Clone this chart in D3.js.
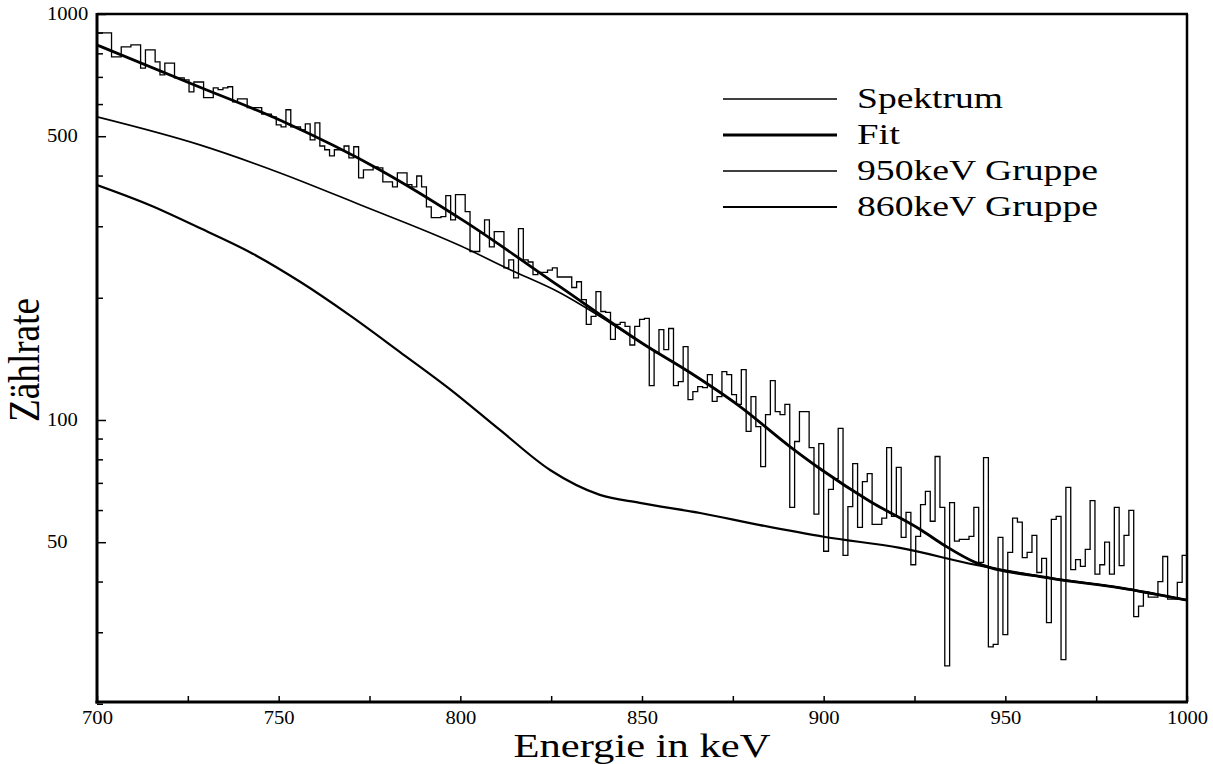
<!DOCTYPE html>
<html><head><meta charset="utf-8">
<script src="https://cdn.jsdelivr.net/npm/d3@7"></script>
<style>
body{margin:0;background:#fff}
svg{display:block}
text{font-family:"Liberation Serif","Times New Roman",serif;fill:#000}
</style>
</head><body>
<svg id="c" width="1213" height="764"></svg>
<script>
// ---------------- data ----------------
const spectrumStartKeV = 700;
const spectrumBinKeV = 4 / 3;
const spectrum = [
  898, 898, 898, 784, 784, 830, 830, 839, 839, 736,
  816, 816, 762, 708, 757, 757, 696, 696, 688, 643,
  680, 680, 622, 622, 658, 651, 658, 662, 608, 618,
  618, 588, 588, 588, 567, 567, 558, 533, 527, 581,
  527, 527, 518, 536, 490, 539, 473, 463, 447, 463,
  463, 473, 442, 471, 395, 413, 413, 420, 418, 386,
  386, 375, 406, 406, 380, 375, 399, 375, 335, 315,
  315, 317, 357, 311, 359, 359, 326, 260, 260, 289,
  311, 267, 291, 291, 237, 248, 224, 296, 248, 245,
  228, 231, 231, 234, 237, 225, 225, 225, 212, 219,
  198, 172, 180, 207, 185, 184, 158, 172, 174, 170,
  153, 170, 177, 178, 121.5, 146.5, 167, 149, 168, 121.5,
  124.3, 151.6, 112.3, 117.5, 120.8, 120.1, 129.4, 111.1, 114.2, 131.6,
  129.4, 115.5, 109.2, 133.1, 93.7, 114.2, 96.3, 76.8, 103.1, 125,
  104.9, 103.1, 109.2, 60.9, 88.5, 104.9, 104.9, 85.5, 58.6, 87.5,
  47.5, 67.5, 71.7, 95.3, 46.4, 61.2, 78.1, 54.4, 70.5, 73.8,
  55.3, 55.3, 57.3, 85.5, 57.9, 76.4, 51.4, 59.2, 44.0, 51.7,
  61.9, 66.7, 56.3, 81.3, 60.9, 24.8, 62.6, 50.3, 50.8, 50.8,
  51.7, 60.9, 44.6, 80.8, 27.6, 28.0, 51.4, 29.6, 47.2, 57.3,
  56.0, 45.8, 47.2, 52.0, 42.1, 45.6, 31.7, 56.9, 57.9, 25.7,
  68.2, 42.8, 45.3, 43.6, 48.0, 63.3, 41.7, 44.0, 50.0, 41.7,
  60.9, 43.8, 52.0, 59.9, 32.8, 34.8, 37.6, 36.6, 36.6, 40.0,
  46.1, 36.2, 36.2, 39.8, 46.4
];

const fitEnergy = [700, 727.5, 750.9, 777.9, 801.3, 827.4, 850.8, 863.2, 877.0, 890.7, 899.5, 912.8, 926.5, 933.4, 941.7, 962.3, 981.6, 1000];
const fitValue  = [839, 665, 545, 413, 308, 213, 153, 130.9, 107.9, 86.0, 75.3, 63.0, 53.8, 49.0, 44.6, 40.8, 38.6, 36.0];

const g950Energy = [700, 728.3, 750.4, 772.4, 800, 813.7, 827.4, 841.2, 850.8, 863.2, 877.0, 890.7, 899.5, 912.8, 926.5, 933.4, 941.7, 962.3, 981.6, 1000];
const g950Value  = [558, 476, 406, 339, 268.6, 234.5, 205.8, 173.6, 153, 130.9, 107.9, 86.0, 75.3, 63.0, 53.8, 49.0, 44.6, 40.8, 38.6, 36.0];

const g860Energy = [700, 714.6, 728.3, 742.1, 755.9, 769.6, 783.4, 797.2, 810.9, 824.7, 838.4, 849.4, 866.0, 882.5, 900.4, 921.0, 941.7, 962.3, 981.6, 1000];
const g860Value  = [379, 338, 297, 259, 219, 181, 147, 119, 94.5, 75.3, 65.4, 62.5, 59.0, 55.1, 51.5, 48.4, 44.0, 40.8, 38.6, 36.0];

const xTickLabels = [700, 750, 800, 850, 900, 950, 1000];
const xMinorTicks = [700, 725, 750, 775, 800, 825, 850, 875, 900, 925, 950, 975, 1000];
const yTickLabels = [1000, 500, 100, 50];
const yMinorTicks = [20, 30, 40, 60, 70, 80, 90, 200, 300, 400, 600, 700, 800, 900];
const yMajorTicks = [50, 100, 500, 1000];
const legendNames = ["Spektrum", "Fit", "950keV Gruppe", "860keV Gruppe"];

// ---------------- layout ----------------
const L = 97, R = 1187, T = 14, B = 702;
const FONT = '"Liberation Serif","Times New Roman",serif';
const svg = d3.select("#c");
const x = d3.scaleLinear().domain([700, 1000]).range([L, R]);
const y = d3.scaleLog().domain([20.2, 1000]).range([B, T]);

svg.append("defs").append("clipPath").attr("id", "clipP")
  .append("rect").attr("x", L).attr("y", T).attr("width", R - L).attr("height", B - T);
const plot = svg.append("g").attr("clip-path", "url(#clipP)");

// spectrum as a step histogram
const specPts = spectrum.map((v, i) => [spectrumStartKeV + i * spectrumBinKeV, v]);
specPts.push([spectrumStartKeV + spectrum.length * spectrumBinKeV, spectrum[spectrum.length - 1]]);
const stepLine = d3.line().x(d => x(d[0])).y(d => y(d[1])).curve(d3.curveStepAfter);
plot.append("path").attr("d", stepLine(specPts))
  .attr("fill", "none").attr("stroke", "#000").attr("stroke-width", 1.3);

const smooth = d3.line().x(d => x(d[0])).y(d => y(d[1])).curve(d3.curveMonotoneX);
const zip = (a, b) => a.map((e, i) => [e, b[i]]);
plot.append("path").attr("d", smooth(zip(g950Energy, g950Value)))
  .attr("fill", "none").attr("stroke", "#000").attr("stroke-width", 1.6);
plot.append("path").attr("d", smooth(zip(g860Energy, g860Value)))
  .attr("fill", "none").attr("stroke", "#000").attr("stroke-width", 2.2);
plot.append("path").attr("d", smooth(zip(fitEnergy, fitValue)))
  .attr("fill", "none").attr("stroke", "#000").attr("stroke-width", 2.8);

// axes: inward ticks
const xTicksG = svg.append("g").attr("transform", `translate(0,${B})`)
  .call(d3.axisBottom(x).tickValues(xMinorTicks).tickSizeInner(-6).tickSizeOuter(0).tickFormat(""));
xTicksG.select(".domain").remove();
xTicksG.selectAll("line").attr("stroke-width", 1.5);

const xLab = svg.append("g").attr("transform", `translate(0,${B})`)
  .call(d3.axisBottom(x).tickValues(xTickLabels).tickSize(0).tickPadding(9).tickFormat(d3.format("d")));
xLab.select(".domain").remove();
xLab.selectAll("text").attr("font-size", 18).style("font-family", FONT)
  .attr("textLength", d => String(d).length * 10.3).attr("lengthAdjust", "spacingAndGlyphs");

const yMin = svg.append("g").attr("transform", `translate(${L},0)`)
  .call(d3.axisLeft(y).tickValues(yMinorTicks).tickSizeInner(-6).tickSizeOuter(0).tickFormat(""));
yMin.select(".domain").remove();
yMin.selectAll("line").attr("stroke-width", 1.5);
const yMaj = svg.append("g").attr("transform", `translate(${L},0)`)
  .call(d3.axisLeft(y).tickValues(yMajorTicks).tickSizeInner(-9).tickSizeOuter(0).tickFormat(""));
yMaj.select(".domain").remove();
yMaj.selectAll("line").attr("stroke-width", 1.5);

const yLab = svg.append("g").attr("transform", `translate(${L},0)`)
  .call(d3.axisLeft(y).tickValues(yTickLabels).tickSize(0).tickFormat(d3.format("d")));
yLab.select(".domain").remove();
yLab.selectAll("text").attr("x", 47 - L).attr("text-anchor", "start")
  .attr("font-size", 18).style("font-family", FONT)
  .attr("textLength", d => String(d).length * 10.3).attr("lengthAdjust", "spacingAndGlyphs");

// frame
svg.append("line").attr("x1", L).attr("x2", L).attr("y1", T - 1).attr("y2", B + 1.5).attr("stroke", "#000").attr("stroke-width", 3);
svg.append("line").attr("x1", L - 1.5).attr("x2", R + 1).attr("y1", B).attr("y2", B).attr("stroke", "#000").attr("stroke-width", 3);
svg.append("line").attr("x1", L).attr("x2", R + 1).attr("y1", T).attr("y2", T).attr("stroke", "#000").attr("stroke-width", 2.5);
svg.append("line").attr("x1", R).attr("x2", R).attr("y1", T).attr("y2", B).attr("stroke", "#000").attr("stroke-width", 2.5);

// titles
svg.append("text").attr("x", 642).attr("y", 757).attr("text-anchor", "middle")
  .attr("font-size", 34).attr("textLength", 257).attr("lengthAdjust", "spacingAndGlyphs")
  .text("Energie in keV");
svg.append("text").attr("transform", "translate(39,360) scale(1.2,1) rotate(-90)").attr("text-anchor", "middle")
  .attr("font-size", 37).attr("textLength", 124).attr("lengthAdjust", "spacingAndGlyphs")
  .text("Zählrate");

// legend
const legendWidths = [1.3, 2.8, 1.6, 2.2];
const legendTextLen = [146, 43, 241, 241];
const lg = svg.append("g");
legendNames.forEach((name, i) => {
  const ly = 99 + i * 36;
  lg.append("line").attr("x1", 723).attr("x2", 837).attr("y1", ly).attr("y2", ly)
    .attr("stroke", "#000").attr("stroke-width", legendWidths[i]);
  lg.append("text").attr("x", 857).attr("y", ly + 9).attr("font-size", 30)
    .attr("textLength", legendTextLen[i]).attr("lengthAdjust", "spacingAndGlyphs").text(name);
});
</script>
</body></html>
